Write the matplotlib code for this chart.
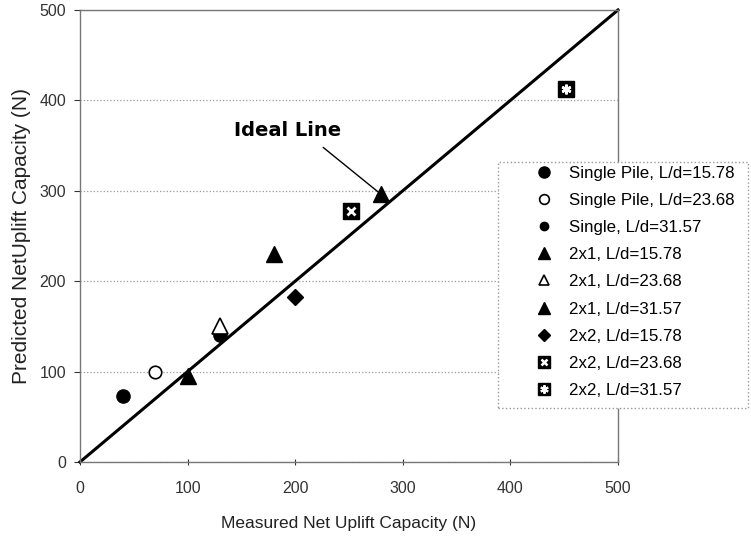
import matplotlib.pyplot as plt
from matplotlib.lines import Line2D
from matplotlib.patches import Rectangle

plt.rcParams['font.family'] = ['Liberation Sans', 'DejaVu Sans']

# Measured vs predicted net uplift capacity (N)
single_1578_x = [40]
single_1578_y = [73]
single_2368_x = [70]
single_2368_y = [100]
single_3157_x = [130]
single_3157_y = [140]
g2x1_1578_x = [100]
g2x1_1578_y = [95]
g2x1_2368_x = [130]
g2x1_2368_y = [150]
g2x1_3157_x = [180, 280]
g2x1_3157_y = [230, 296]
g2x2_1578_x = [200]
g2x2_1578_y = [183]
g2x2_2368_x = [252]
g2x2_2368_y = [278]
g2x2_3157_x = [452]
g2x2_3157_y = [413]

ideal_x = [0, 500]
ideal_y = [0, 500]

ticks = [0, 100, 200, 300, 400, 500]
legend_labels = ['Single Pile, L/d=15.78', 'Single Pile, L/d=23.68', 'Single, L/d=31.57',
                 '2x1, L/d=15.78', '2x1, L/d=23.68', '2x1, L/d=31.57',
                 '2x2, L/d=15.78', '2x2, L/d=23.68', '2x2, L/d=31.57']

fig = plt.figure(figsize=(7.51, 5.39), dpi=100)
ax = fig.add_axes([0.1065, 0.1429, 0.7164, 0.8386])

# horizontal dotted grid only
ax.set_axisbelow(True)
ax.yaxis.grid(True, linestyle=':', color='#999999', linewidth=0.9)

# ideal line
ax.plot(ideal_x, ideal_y, color='black', linewidth=2.2, zorder=2, clip_on=False)

# data points
ax.plot(single_1578_x, single_1578_y, 'o', color='black', ms=9.5, zorder=3)
ax.plot(single_2368_x, single_2368_y, 'o', mfc='white', mec='black', mew=1.2, ms=9, zorder=3)
ax.plot(single_3157_x, single_3157_y, 'o', color='black', ms=9.5, zorder=3)
ax.plot(g2x1_1578_x, g2x1_1578_y, '^', color='black', ms=11, zorder=3)
ax.plot(g2x1_2368_x, g2x1_2368_y, '^', mfc='white', mec='black', mew=1.2, ms=11, zorder=4)
ax.plot(g2x1_3157_x, g2x1_3157_y, '^', color='black', ms=12, zorder=3)
ax.plot(g2x2_1578_x, g2x2_1578_y, 'D', color='black', ms=8.5, zorder=3)
ax.plot(g2x2_2368_x, g2x2_2368_y, 's', color='black', ms=11, zorder=3)
ax.plot(g2x2_2368_x, g2x2_2368_y, 'x', color='white', ms=6, mew=2, zorder=4)
ax.plot(g2x2_3157_x, g2x2_3157_y, 's', color='black', ms=11, zorder=3)
ax.plot(g2x2_3157_x, g2x2_3157_y, marker=(6, 2, 0), color='white', ms=7, mew=1.8,
        linestyle='none', zorder=4)

# label with arrow
ax.text(193, 367, 'Ideal Line', fontsize=14, fontweight='bold', ha='center', va='center',
        family='DejaVu Sans')
ax.annotate('', xy=(284, 292), xytext=(226, 348),
            arrowprops=dict(arrowstyle='-|>', color='black', lw=1, mutation_scale=12,
                            shrinkA=0, shrinkB=0))

ax.set_xlim(0, 500)
ax.set_ylim(0, 500)
ax.set_xticks(ticks)
ax.set_yticks(ticks)
ax.tick_params(axis='both', labelsize=11.5, colors='#333333', length=4)
ax.tick_params(axis='x', direction='inout', pad=12)
ax.tick_params(axis='y', pad=6)
for s in ax.spines.values():
    s.set_color('#777777')
    s.set_linewidth(1)

ax.set_xlabel('Measured Net Uplift Capacity (N)', fontsize=12.5, color='#222222', labelpad=14)
ax.set_ylabel('Predicted NetUplift Capacity (N)', fontsize=15, color='#222222', labelpad=6)

# legend with its own dotted box
handles = [
    Line2D([], [], linestyle='none', marker='o', color='black', ms=8),
    Line2D([], [], linestyle='none', marker='o', mfc='white', mec='black', mew=1.2, ms=7),
    Line2D([], [], linestyle='none', marker='o', color='black', ms=6),
    Line2D([], [], linestyle='none', marker='^', color='black', ms=8),
    Line2D([], [], linestyle='none', marker='^', mfc='white', mec='black', mew=1.2, ms=7),
    Line2D([], [], linestyle='none', marker='^', color='black', ms=8),
    Line2D([], [], linestyle='none', marker='D', color='black', ms=6),
    (Line2D([], [], linestyle='none', marker='s', color='black', ms=9),
     Line2D([], [], linestyle='none', marker='x', color='white', ms=5, mew=1.8)),
    (Line2D([], [], linestyle='none', marker='s', color='black', ms=9),
     Line2D([], [], linestyle='none', marker=(6, 2, 0), color='white', ms=6, mew=1.5)),
]
fig.patches.append(Rectangle((498 / 751, 1 - 408 / 539), 250 / 751, 246 / 539,
                             transform=fig.transFigure, facecolor='white',
                             edgecolor='#999999', linestyle=':', linewidth=1, zorder=5))
leg = fig.legend(handles, legend_labels, loc='upper left', bbox_to_anchor=(518 / 751, 1 - 152 / 539),
                 frameon=False, fontsize=12.2, handlelength=1.5, handletextpad=0.7,
                 labelspacing=0.72, borderpad=0.3)
leg.set_zorder(6)

plt.savefig('out.png', dpi=100)
